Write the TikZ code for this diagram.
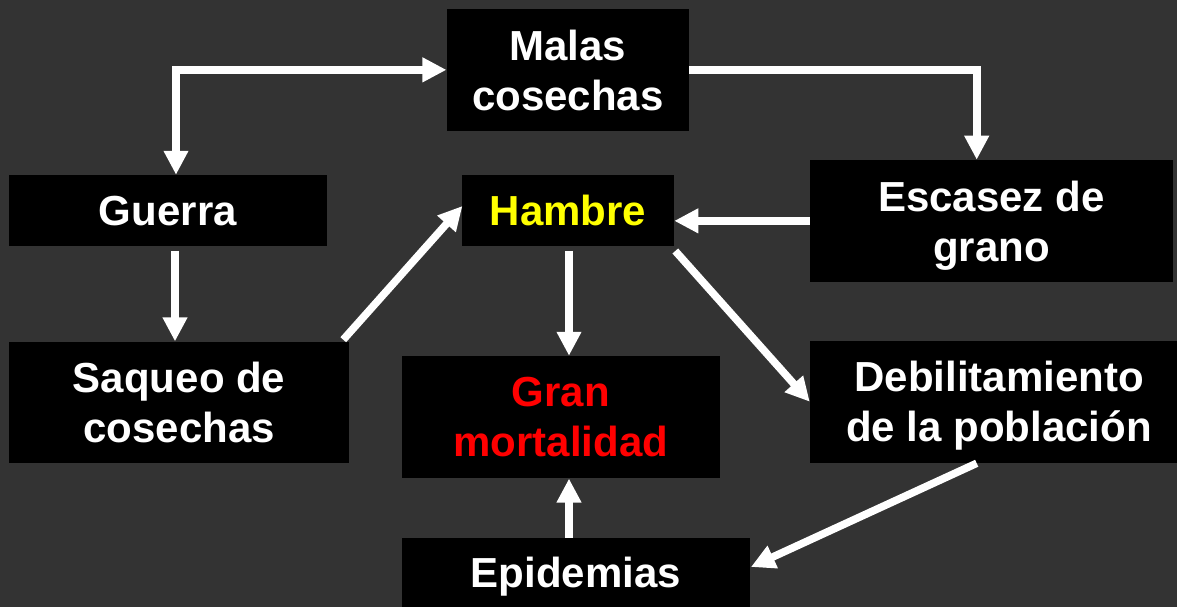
\documentclass[tikz,border=0pt]{standalone}
\usepackage{fontspec}
\setmainfont{Liberation Sans}
\usetikzlibrary{arrows.meta}
\definecolor{bgc}{HTML}{333333}
\definecolor{hyel}{HTML}{FFFF00}
\definecolor{hred}{HTML}{FF0000}
\begin{document}
\begin{tikzpicture}[x=0.75pt,y=-0.75pt,
  box/.style={fill=black,inner sep=0pt,text=white,align=center,text depth=0pt,
    font=\bfseries\fontsize{31.5}{37.5}\selectfont},
  conn/.style={draw=white,line width=5.7pt},
  >={Triangle[length=18pt,width=17.5pt]}]
\useasboundingbox (0,0) rectangle (1177,607);
\clip (0,0) rectangle (1177,607);
\fill[bgc] (0,0) rectangle (1177,607);

\node[box,minimum width=181.7pt,minimum height=91.3pt] (malas) at (567.85,69.85) {Malas\\cosechas};
\node[box,minimum width=238.3pt,minimum height=53pt] (guerra) at (167.85,210.35) {Guerra};
\node[box,minimum width=158.8pt,minimum height=53.3pt,text=hyel] (hambre) at (568.15,210.5) {Hambre};
\node[box,minimum width=272pt,minimum height=91.3pt] (escasez) at (991.35,220.85) {Escasez de\\grano};
\node[box,minimum width=255.2pt,minimum height=90.8pt] (saqueo) at (179.15,402.2) {Saqueo de\\cosechas};
\node[box,minimum width=238.7pt,minimum height=91.7pt,text=hred] (gran) at (560.85,417.15) {Gran\\mortalidad};
\node[box,minimum width=283.5pt,minimum height=91.5pt] (debil) at (999,401.7) {Debilitamiento\\de la población};
\node[box,minimum width=261.2pt,minimum height=51.8pt] (epid) at (575.85,572.5) {Epidemias};

\coordinate (c1) at (176,69.85);
\coordinate (c2) at (976.7,69.85);
\coordinate (gx) at (175,0);
\coordinate (hx) at (569,0);

\draw[conn,<->] (c1|-guerra.north) -- (c1) -- (malas.west);
\draw[conn,->] (malas.east) -- (c2) -- (c2|-escasez.north);
\draw[conn,->] (escasez.west) -- (escasez.west-|hambre.east);
\draw[conn,->,shorten <=3.75pt] (gx|-guerra.south) -- (gx|-saqueo.north);
\draw[conn,->] ([shift={(-6.3,-1.7)}]saqueo.north east) -- ([shift={(0.4,-4.5)}]hambre.west);
\draw[conn,->,shorten <=3.5pt] (hx|-hambre.south) -- (hx|-gran.north);
\draw[conn,->] ([shift={(1,4.7)}]hambre.south east) -- (debil.west);
\draw[conn,->] ([shift={(-22.3,0.3)}]debil.south) -- ([shift={(0.7,-5.5)}]epid.east);
\draw[conn,->] (hx|-epid.north) -- (hx|-gran.south);
\end{tikzpicture}
\end{document}
